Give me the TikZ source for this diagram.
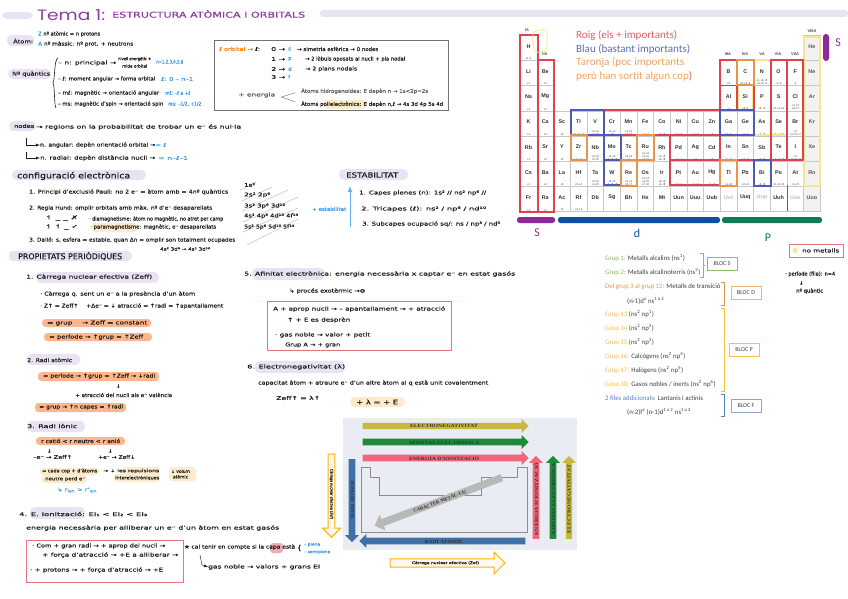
\documentclass[tikz,border=0pt]{standalone}
\usepackage{fontspec}
\usepackage{graphicx}
\usepackage{xcolor}
\usetikzlibrary{shapes.arrows,arrows.meta}
\setmainfont{DejaVu Sans}[FakeBold=0.35]
\newfontfamily\blocfont{Carlito}
\newfontfamily\tablefont{Liberation Sans}
\newfontfamily\trendfont{Liberation Serif}
\newfontfamily\titlefont{Poppins}
\definecolor{ink}{HTML}{1C1C1C}
\definecolor{lav}{HTML}{E9E2F2}
\definecolor{peach}{HTML}{FFB68C}
\definecolor{cream}{HTML}{FDEBCB}
\definecolor{plum}{HTML}{8A3F9E}
\definecolor{skyb}{HTML}{3D9BEA}
\definecolor{boxred}{HTML}{E8737A}
\definecolor{tred}{HTML}{E0404F}
\definecolor{tblue}{HTML}{5058B8}
\definecolor{torange}{HTML}{E8944A}
\definecolor{tyellow}{HTML}{F7E68C}
\definecolor{trendbg}{HTML}{E9EDF3}
\definecolor{trendy}{HTML}{C8B83F}
\definecolor{trendg}{HTML}{1F8A3C}
\definecolor{trendp}{HTML}{F0667A}
\definecolor{trendb}{HTML}{3F71A8}
\definecolor{barp}{HTML}{8E2A9A}
\definecolor{barb}{HTML}{0F4FA0}
\definecolor{barg}{HTML}{117A5A}
\definecolor{lgreen}{HTML}{8DBB6A}
\definecolor{lyellow}{HTML}{F5C242}
\definecolor{lblue}{HTML}{5B7FC9}
\newcommand{\fitw}[2]{\resizebox{#1pt}{\height}{#2}}
\tikzset{
  note/.style={anchor=west,inner sep=0pt,text=ink,font=\fontsize{5.2}{6.2}\selectfont},
  bluenote/.style={note,text=skyb},
  greynote/.style={note,text=ink!70},
  head/.style={note,font=\fontsize{8}{9}\selectfont},
  lavpill/.style={fill=lav,rounded corners=5pt},
  peachbar/.style={fill=peach,rounded corners=3.5pt},
  creampill/.style={fill=cream,rounded corners=3pt},
  redbox/.style={draw=boxred,line width=1pt},
  cell/.style={rectangle,draw=black!22,fill=white,anchor=north west,minimum width=16.67pt,minimum height=25.2pt,inner sep=0pt},
  elemsym/.style={inner sep=0pt,font=\tablefont\bfseries\fontsize{5.4}{6}\selectfont,text=black!80},
  oxstate/.style={inner sep=0.6pt,font=\tablefont\fontsize{2.8}{3}\selectfont,text=black!80,align=center},
  tbox/.style={line width=1.1pt},
  group/.style={inner sep=0pt,font=\tablefont\bfseries\fontsize{4}{5}\selectfont,text=black!70},
  legend/.style={anchor=west,inner sep=0pt,font=\blocfont\fontsize{11}{12}\selectfont},
  blocitem/.style={anchor=west,inner sep=0pt,text=black!75,font=\blocfont\fontsize{6.8}{7}\selectfont},
  blocbox/.style={draw,line width=0.8pt,minimum width=30pt,minimum height=13pt,inner sep=0pt,text=black!75,font=\blocfont\fontsize{6}{7}\selectfont},
  trend/.style={single arrow,single arrow head extend=2.4pt,single arrow head indent=0pt,inner sep=0pt,minimum width=14pt,anchor=center,font=\trendfont\bfseries\fontsize{4.8}{5}\selectfont,text=black!80},
  outarrow/.style={single arrow,single arrow head extend=4pt,single arrow head indent=0pt,draw=orange!60!yellow,fill=orange!6,line width=1pt,inner sep=0pt,font=\fontsize{3.6}{4}\selectfont,text=ink}
}
\begin{document}
\begin{tikzpicture}[x=1pt,y=-1pt]
\useasboundingbox (0,0) rectangle (848,599);
\fill[white] (0,0) rectangle (848,599);

% titol
\fill[lavpill] (2,12) rectangle (33,19);
\fill[fill=lav,rounded corners=3pt] (320,10) rectangle (848,17);
\node[note,text=plum,font=\titlefont\fontsize{15}{16}\selectfont] (titlenum) at (37,15) {\fitw{68}{Tema 1:}};
\node[note,text=plum,font=\fontsize{8}{9}\selectfont] (titletext) at (112,14) {\fitw{193}{ESTRUCTURA ATÒMICA I ORBITALS}};

% atom i nombres quantics
\fill[lavpill] (7,35) rectangle (34,46);
\node[note] (atom) at (13,41) {\fitw{20}{Àtom:}};
\node[note] (atomz) at (38,34) {\fitw{62}{\textcolor{skyb}{Z} nº atòmic = n protons}};
\node[note] (atoma) at (38,44) {\fitw{95}{\textcolor{skyb}{A} nº màssic: nº prot. + neutrons}};
\fill[lavpill] (8,69) rectangle (51,79);
\node[note] (quantics) at (12,74) {\fitw{38}{Nº quàntics}};
\draw[ink,line width=0.6pt] (58,58) .. controls (54,59) and (55,80) .. (53,83) .. controls (55,86) and (54,106) .. (56,108);
\node[note] (qn) at (58,63) {\fitw{58}{– n: principal →}};
\node[note,font=\fontsize{4.2}{5}\selectfont] (qnb) at (118,59) {\fitw{33}{nivell energètic +}};
\node[note,font=\fontsize{4.2}{5}\selectfont] (qnc) at (122,66) {\fitw{25}{mida orbital}};
\node[bluenote] (qnv) at (156,62) {\fitw{27}{n=1,2,3,4,5,6}};
\node[note] (ql) at (58,79) {\fitw{97}{– ℓ: moment angular → forma orbital}};
\node[bluenote] (qlv) at (161,79) {\fitw{32}{ℓ: 0 – n–1}};
\node[note] (qm) at (58,93) {\fitw{101}{– mℓ: magnètic → orientació angular}};
\node[bluenote] (qmv) at (165,93) {\fitw{25}{mℓ: –ℓ a +ℓ}};
\node[note] (qs) at (58,104) {\fitw{105}{– ms: magnètic d'spin → orientació spin}};
\node[bluenote] (qsv) at (168,104) {\fitw{33}{ms: –1/2, +1/2}};

% requadre orbitals
\draw[black!55,line width=1pt,fill=white] (214,41) rectangle (448,111);
\node[note] (orbital) at (219,49) {\fitw{41}{\textcolor{orange}{ℓ orbital →} ℓ:}};
\node[note] (lzero) at (271,49) {\fitw{14}{0 →}};
\node[note,text=skyb] (orbs) at (288,49) {s};
\node[note] (orbsd) at (297,49) {\fitw{81}{→ simetria esfèrica → 0 nodes}};
\node[note] (lone) at (271,59) {\fitw{14}{1 →}};
\node[note,text=skyb] (orbp) at (288,59) {p};
\node[note] (orbpd) at (305,59) {\fitw{100}{→ 2 lòbuls oposats al nucli + pla nodal}};
\node[note] (ltwo) at (271,69) {\fitw{14}{2 →}};
\node[note,text=skyb] (orbd) at (288,69) {d};
\node[note] (orbdd) at (305,69) {\fitw{52}{→ 2 plans nodals}};
\node[note] (lthree) at (271,77) {\fitw{14}{3 →}};
\node[note,text=skyb] (orbf) at (288,77) {f};
\node[greynote] (enrg) at (238,95) {\fitw{37}{+ energia}};
\fill[creampill] (323,100) rectangle (366,109);
\node[greynote] (hidro) at (301,91) {\fitw{127}{Àtoms hidrogenoides: E depèn n → 1s<2p=2s}};
\node[note] (poli) at (301,104) {\fitw{142}{Àtoms polielectrònics: E depèn n,ℓ → 4s 3d 4p 5s 4d}};
\draw[black!50,line width=0.5pt,shorten >=6pt] (enrg.east)+(6,2) -- (hidro.west);
\draw[black!50,line width=0.5pt,shorten >=6pt] (enrg.east)+(6,2) -- (poli.west);

% nodes
\fill[lavpill] (9,121) rectangle (36,131);
\node[note] (nodes) at (14,126) {\fitw{20}{nodes}};
\node[note] (nodesd) at (36,127) {\fitw{205}{→ regions on la probabilitat de trobar un e⁻ és nul·la}};
\coordinate (nforka) at (26,138);
\coordinate (nforkb) at (26,152);
\node[note] (nang) at (40,145) {\fitw{115}{n. angular: depèn orientació orbital →}};
\node[bluenote] (nangv) at (155,145) {\fitw{11}{= ℓ}};
\node[note] (nrad) at (40,158) {\fitw{115}{n. radial: depèn distància nucli →}};
\node[bluenote] (nradv) at (158,158) {\fitw{30}{= n–ℓ–1}};
\draw[-latex,ink,line width=0.4pt] (nforka) |- (nang.west);
\draw[-latex,ink,line width=0.4pt] (nforkb) |- (nrad.west);

% configuracio electronica
\fill[lavpill] (12,170) rectangle (146,180);
\node[head] (config) at (17,176) {\fitw{113}{configuració electrònica}};
\node[note] (pauli) at (29,192) {\fitw{199}{1. Principi d'exclusió Pauli: no 2 e⁻ = àtom amb = 4nº quàntics}};
\node[note] (hund) at (29,208) {\fitw{183}{2. Regla Hund: omplir orbitals amb màx. nº d'e⁻ desaparellats}};
\node[note] (orba) at (45,218) {\fitw{33}{↿ \_ \_ ✗}};
\node[note] (diam) at (89,219) {\fitw{134}{· diamagnetisme: àtom no magnètic, no atret per camp}};
\node[note] (orbb) at (45,227) {\fitw{33}{↿ ↿ \_ ✓}};
\fill[creampill] (92,223) rectangle (137,232);
\node[note] (param) at (90,227) {\fitw{126}{· paramagnetisme: magnètic, e⁻ desaparellats}};
\node[note] (dallo) at (29,240) {\fitw{206}{3. Dalló: s, esfera = estable, quan Δn = omplir son totalment ocupades}};
\node[note,font=\fontsize{4.5}{5}\selectfont] (dallob) at (160,249) {\fitw{50}{4s² 3d⁹ → 4s¹ 3d¹⁰}};

% diagonals
\foreach \xa/\ya/\xb/\yb in {240/190/256/182,242/201/272/187,242/211/288/190,243/222/298/197,243/232/298/208,247/245/298/219}
  \draw[black!22,line width=0.6pt] (\xa,\ya) -- (\xb,\yb);
\node[note] (aufa) at (244,185) {\fitw{11}{1s²}};
\node[note] (aufb) at (244,195) {\fitw{26}{2s² 2p⁶}};
\node[note] (aufc) at (244,206) {\fitw{41}{3s² 3p⁶ 3d¹⁰}};
\node[note] (aufd) at (244,216) {\fitw{54}{4s² 4p⁶ 4d¹⁰ 4f¹⁴}};
\node[note] (aufe) at (244,227) {\fitw{50}{5s² 5p⁶ 5d¹⁰ 5f¹⁴}};

% estabilitat
\fill[lavpill] (339,169) rectangle (408,180);
\node[note,font=\fontsize{7}{8}\selectfont] (estab) at (346,175) {\fitw{52}{ESTABILITAT}};
\node[bluenote] (mesest) at (312,209) {\fitw{34}{+ estabilitat}};
\coordinate (estlow) at (350,227);
\coordinate (esthigh) at (350,186);
\draw[-latex,skyb!80,line width=1pt] (estlow) -- (esthigh);
\node[note] (capes) at (359,193) {\fitw{127}{1. Capes plenes (n): 1s² // ns² np⁶ //}};
\node[note] (tricapes) at (361,209) {\fitw{125}{2. Tricapes (ℓ): ns² / np⁶ / nd¹⁰}};
\node[note] (subcapes) at (362,224) {\fitw{138}{3. Subcapes ocupació sq/: ns / np³ / nd⁵}};

% propietats
\fill[lavpill] (9,251) rectangle (132,261);
\node[head] (prop) at (18,256) {\fitw{104}{PROPIETATS PERIÒDIQUES}};
\fill[lavpill] (36,272) rectangle (159,283);
\node[note] (zef) at (26,277) {\fitw{126}{1. Càrrega nuclear efectiva (Zeff)}};
\node[note] (zefa) at (40,294) {\fitw{155}{· Càrrega q. sent un e⁻ a la presència d'un àtom}};
\node[note] (zefb) at (40,306) {\fitw{183}{· Z↑ = Zeff↑ \quad +Δe⁻ = ↓ atracció = ↑radi = ↑apantallament}};
\fill[peachbar] (42,319) rectangle (151,327);
\node[note] (zefc) at (47,323) {\fitw{100}{= grup \quad → Zeff = constant}};
\fill[peachbar] (44,333) rectangle (152,341);
\node[note] (zefd) at (49,337) {\fitw{94}{= període → ↑grup = ↑Zeff}};

\fill[lavpill] (27,354) rectangle (80,365);
\node[note] (radi) at (27,360) {\fitw{45}{2. Radi atòmic}};
\fill[peachbar] (38,372) rectangle (159,381);
\node[note] (radia) at (43,376) {\fitw{112}{= període → ↑grup = ↑Zeff → ↓radi}};
\node[note] (radifl) at (116,386) {↓};
\node[note] (radib) at (75,395) {\fitw{97}{+ atracció del nucli als e⁻ valència}};
\fill[peachbar] (35,403) rectangle (126,412);
\node[note] (radic) at (39,407) {\fitw{84}{= grup → ↑n capes = ↑radi}};

\fill[lavpill] (27,421) rectangle (85,432);
\node[note] (ionic) at (27,426) {\fitw{50}{3. Radi iònic}};
\fill[peachbar] (36,437) rectangle (125,445);
\node[note] (ionica) at (41,441) {\fitw{79}{r catió < r neutre < r anió}};
\node[note] (ionfla) at (47,451) {↓};
\node[note] (ionflb) at (108,451) {↓};
\node[note] (ionicb) at (33,457) {\fitw{39}{–e⁻ → Zeff↑}};
\node[note] (ionicc) at (98,457) {\fitw{37}{+e⁻ → Zeff↓}};
\fill[creampill] (40,468) rectangle (99,475);
\fill[creampill] (42,475) rectangle (87,483);
\fill[creampill] (123,467) rectangle (160,475);
\fill[creampill] (114,474) rectangle (160,482);
\fill[creampill] (169,467) rectangle (196,481);
\node[note,font=\fontsize{4.6}{5}\selectfont] (cadaa) at (42,471) {\fitw{55}{= cada cop + d'àtoms}};
\node[note,font=\fontsize{4.6}{5}\selectfont] (cadab) at (45,479) {\fitw{40}{neutre perd e⁻}};
\node[note,font=\fontsize{4.4}{5}\selectfont] (repa) at (103,471) {\fitw{56}{→ ↓ les repulsions}};
\node[note,font=\fontsize{4.4}{5}\selectfont] (repb) at (115,478) {\fitw{44}{interelectròniques}};
\node[note,font=\fontsize{4.4}{5.5}\selectfont,align=center] (volum) at (171,474) {↓ volum\\atòmic};
\node[bluenote] (rion) at (57,490) {\fitw{40}{↳ r\textsubscript{ion} > r'\textsubscript{ion}}};

% energia d'ionitzacio
\fill[lavpill] (30,507) rectangle (85,519);
\node[note] (ei) at (19,514) {\fitw{128}{4. E. Ionització: EI₁ < EI₂ < EI₃}};
\node[note] (eia) at (26,528) {\fitw{253}{energia necessària per alliberar un e⁻ d'un àtom en estat gasós}};
\draw[redbox] (26,540) rectangle (183,582);
\node[note] (eib) at (32,546) {\fitw{133}{· Com + gran radi → + aprop del nucli →}};
\node[note] (eic) at (42,555) {\fitw{136}{+ força d'atracció → +E a alliberar →}};
\node[note] (eid) at (30,570) {\fitw{133}{· + protons → + força d'atracció → +E}};
\fill[fill=boxred!60,rounded corners=3pt] (270,543) rectangle (283,553);
\node[note] (capa) at (184,547) {\fitw{111}{★ cal tenir en compte si la capa està}};
\node[note,font=\fontsize{7}{8}\selectfont] (capabr) at (297,548) {\{};
\node[bluenote,font=\fontsize{3.8}{4}\selectfont] (plena) at (304,544.5) {\fitw{16}{– plena}};
\node[bluenote,font=\fontsize{3.8}{4}\selectfont] (semi) at (304,552) {\fitw{26}{– semiplena}};
\coordinate (gasfork) at (200,555);
\node[note] (gas) at (208,567) {\fitw{112}{gas noble → valors + grans EI}};
\draw[-latex,ink,line width=0.4pt] (gasfork) -- (202,565) -- (gas.west);

% afinitat
\fill[lavpill] (252,268) rectangle (325,280);
\node[note] (afin) at (244,274) {\fitw{271}{5. Afinitat electrònica: energia necessària x captar e⁻ en estat gasós}};
\node[note] (exot) at (289,291) {\fitw{76}{↳ procés exotèrmic →⊖}};
\draw[redbox] (267,301) rectangle (451,350);
\node[note] (afa) at (273,309) {\fitw{172}{A + aprop nucli → – apantallament → + atracció}};
\node[note] (afb) at (287,320) {\fitw{63}{↑ + E es desprèn}};
\node[note] (afc) at (275,335) {\fitw{95}{· gas noble → valor + petit}};
\node[note] (afd) at (285,345) {\fitw{55}{Grup A → + gran}};

% electronegativitat
\fill[lavpill] (255,361) rectangle (345,373);
\node[note] (eneg) at (247,367) {\fitw{98}{6. Electronegativitat (λ)}};
\node[note] (enega) at (258,383) {\fitw{230}{capacitat àtom + atraure e⁻ d'un altre àtom al q està unit covalentment}};
\node[note] (enegb) at (276,398) {\fitw{44}{Zeff↑ = λ↑}};
\fill[fill=cream,rounded corners=5pt] (350,397) rectangle (405,407);
\node[note,font=\fontsize{6.5}{8}\selectfont] (enegc) at (356,402) {\fitw{42}{+ λ = + E}};

% esquema de tendencies
\fill[trendbg] (343,418) rectangle (577,550);
\node[trend,fill=trendy,minimum height=166pt] (tenega) at (444,426) {\fitw{68}{ELECTRONEGATIVITAT}};
\node[trend,fill=trendg,minimum height=166pt] (tafina) at (444,442) {\fitw{71}{AFINITAT ELECTRÒNICA}};
\node[trend,fill=trendp,minimum height=166pt] (tioniza) at (444,458) {\fitw{70}{ENERGIA D'IONITZACIÓ}};
\draw[black!45,line width=0.8pt] (361,467) -- (370,467) -- (370,477) -- (379,477) -- (379,495) -- (481,495) -- (481,477) -- (517,477) -- (517,467) -- (527,467) -- (527,532) -- (361,532) -- cycle;
\node[trend,fill=trendb,minimum height=83pt,rotate=-90] (tradiv) at (352,499) {\rotatebox{180}{\fitw{39}{RADI ATÒMIC}}};
\node[trend,fill=trendb,minimum height=166pt,rotate=180] (tradih) at (444,541) {\rotatebox{180}{\fitw{39}{RADI ATÒMIC}}};
\node[trend,fill=trendp,minimum height=83pt,rotate=90] (tionizb) at (536,499) {\fitw{72}{ENERGIA D'IONITZACIÓ}};
\node[trend,fill=trendg,minimum height=83pt,rotate=90] (tafinb) at (553,499) {\fitw{72}{AFINITAT ELECTRÒNICA}};
\node[trend,fill=trendy,minimum height=83pt,rotate=90] (tenegb) at (569,499) {\fitw{68}{ELECTRONEGATIVITAT}};
\node[trend,fill=black!28,minimum height=136pt,minimum width=17pt,single arrow head extend=3pt,rotate=200.7] (tmetal) at (440,501) {\rotatebox{180}{\fitw{57}{CARÀCTER METÀL·LIC}}};
\node[outarrow,minimum height=83pt,minimum width=18pt,rotate=-90] (zefv) at (331.5,494) {\fitw{50}{Càrrega nuclear efectiva (Zef)}};
\node[outarrow,minimum height=115pt,minimum width=22pt] (zefh) at (445.5,563) {\fitw{67}{Càrrega nuclear efectiva (Zef)}};

% taula periodica
\foreach \sym/\cx/\cy/\ox in {H/0/0/{+1,-1},Li/0/1/+1,Be/1/1/+2,B/12/1/+3,C/13/1/{+2,+4,-4},N/14/1/{+1,+2,+3\\+4,+5,-3},O/15/1/{-1,-2},F/16/1/-1,
  Na/0/2/+1,Mg/1/2/+2,Al/12/2/+3,Si/13/2/{+4,-4},P/14/2/{+3,+5},S/15/2/{+2,+4,+6},Cl/16/2/{+1,+3\\+5,+7},
  K/0/3/+1,Ca/1/3/+2,Sc/2/3/+3,Ti/3/3/{+2,+3,+4},V/4/3/{+2,+3\\+4,+5},Cr/5/3/{+2,+3\\+6},Mn/6/3/{+2,+3\\+4,+7},Fe/7/3/{+2,+3},Co/8/3/{+2,+3},Ni/9/3/{+2,+3},Cu/10/3/{+1,+2},Zn/11/3/+2,Ga/12/3/{+1,+3},Ge/13/3/{+2,+4},As/14/3/{+3,+5},Se/15/3/{-2,+4,+6},Br/16/3/{+1\\+3,+5,+7},
  Rb/0/4/+1,Sr/1/4/+2,Y/2/4/+3,Zr/3/4/{+3,+4},Nb/4/4/{+2,+3\\+4,+5},Mo/5/4/{+2,+3\\+4,+5,+6},Tc/6/4/{+4,+6\\+7},Ru/7/4/{+2,+3\\+4,+6\\+7,+8},Rh/8/4/{+2,+3\\+4,+6},Pd/9/4/{+2,+4},Ag/10/4/+1,Cd/11/4/+2,In/12/4/{+1,+3},Sn/13/4/{+2,+4},Sb/14/4/{+3,+5},Te/15/4/{+2,+4,+6},I/16/4/{+1\\+3,+5,+7},
  Cs/0/5/+1,Ba/1/5/+2,La/2/5/+3,Hf/3/5/{+3,+4},Ta/4/5/{+2,+3\\+4,+5},W/5/5/{+2,+3\\+4,+5,+6},Re/6/5/{+2,+4\\+6,+7},Os/7/5/{+2,+3\\+4,+6\\+7,+8},Ir/8/5/{+2,+3\\+4,+6},Pt/9/5/{+2,+4},Au/10/5/{+1,+3},Hg/11/5/{+1,+2},Tl/12/5/{+1,+3},Pb/13/5/{+2,+4},Bi/14/5/{+3,+5},Po/15/5/{+2,+4,+6},At/16/5/{+1,+5},
  Fr/0/6/+1,Ra/1/6/+2,Ac/2/6/+3,Rf/3/6/{+3,+4},Db/4/6/{},Sg/5/6/{},Bh/6/6/{},Hs/7/6/{},Mt/8/6/{},Uun/9/6/{},Uuu/10/6/{},Uub/11/6/{},Uuq/13/6/{},Uuh/15/6/{}}{
  \node[cell] (\sym) at ({520+16.67*\cx},{35+25.2*\cy}) {};
  \node[elemsym] (sym\sym) at ([yshift=1.5pt]\sym.center) {\sym};
  \node[oxstate,anchor=south] (ox\sym) at (\sym.south) {\ox};
}
\foreach \sym/\cx/\cy in {He/17/0,Ne/17/1,Ar/17/2,Kr/17/3,Xe/17/4,Rn/17/5,Uuo/17/6}{
  \node[cell,fill=black!5] (\sym) at ({520+16.67*\cx},{35+25.2*\cy}) {};
  \node[elemsym,text=black!65] (sym\sym) at ([yshift=1.5pt]\sym.center) {\sym};
}
\foreach \sym/\cx in {Uut/12,Uup/14,Uus/16}{
  \node[cell] (\sym) at ({520+16.67*\cx},{35+25.2*6}) {};
  \node[elemsym,text=black!25] (sym\sym) at ([yshift=1.5pt]\sym.center) {\sym};
}
\draw[black!60,line width=0.7pt] (720,85) -- (737,85) (754,135) -- (770,135) (787,185) -- (787,211);
\node[group] (gia) at (527,30) {IA};
\node[group] (giia) at (545,54) {IIA};
\node[group] (giiia) at (728,54) {IIIA};
\node[group] (giva) at (745,54) {IVA};
\node[group] (gva) at (762,54) {VA};
\node[group] (gvia) at (778,54) {VIA};
\node[group] (gviia) at (795,54) {VIIA};
\node[group] (gviiia) at (812,31) {VIIIA};
% marcs de colors
\draw[tbox,tyellow] (804,37) rectangle (820,186);
\draw[tbox,tyellow] (754,60) -- (771,60) -- (771,135) -- (754,135) -- cycle;
\draw[tbox,tyellow] (738,85) rectangle (753,110);
\draw[tbox,tyellow] (771,135) rectangle (787,160);
\draw[tbox,tred] (520,35) rectangle (538,212);
\draw[tbox,tred] (538,60) rectangle (554,212);
\draw[tbox,tred] (604,110) rectangle (720,135);
\draw[tbox,tred] (670,135) rectangle (720,160);
\draw[tbox,tred] (670,160) rectangle (720,185);
\draw[tbox,tred] (720,60) rectangle (737,110);
\draw[tbox,tred] (737,85) rectangle (754,110);
\draw[tbox,tred] (771,60) rectangle (787,160);
\draw[tbox,tred] (787,60) rectangle (803,160);
\draw[tbox,tred] (720,160) -- (787,160);
\draw[tbox,tblue] (571,110) rectangle (604,135);
\draw[tbox,tblue] (604,135) rectangle (621,160);
\draw[tbox,tblue] (604,160) rectangle (621,185);
\draw[tbox,tblue] (720,110) rectangle (754,135);
\draw[tbox,tblue] (754,160) rectangle (771,186);
\draw[tbox,torange] (571,135) rectangle (587,160);
\draw[tbox,torange] (637,135) rectangle (654,160);
\draw[tbox,torange] (621,160) rectangle (637,186);
\draw[tbox,torange] (720,160) rectangle (737,186);
\draw[tbox,torange] (737,60) rectangle (754,85);
\draw[tyellow,line width=0.8pt] plot[smooth cycle] coordinates {(534,32) (546,30) (547,40) (546,50) (536,52) (533,45)};

\node[legend,text=tred!85] (roig) at (576,35) {\fitw{101}{Roig (els + importants)}};
\node[legend,text=tblue!90] (blau) at (576,49) {\fitw{114}{Blau (bastant importants)}};
\node[legend,text=torange!85] (taronja) at (576,62) {\fitw{108}{Taronja (poc importants}};
\node[legend,text=torange!85] (pero) at (576,76) {\fitw{116}{però han sortit algun cop\textcolor{tred!85}{)}}};

\fill[barp,rounded corners=2.5pt] (517,217) rectangle (555,223);
\fill[barb,rounded corners=2.5pt] (558,217) rectangle (720,223);
\fill[barg,rounded corners=2.5pt] (722,217) rectangle (822,223);
\fill[barp,rounded corners=3pt] (823,34) rectangle (829,61);
\node[inner sep=0pt,text=barp,font=\blocfont\fontsize{12}{13}\selectfont] (lets) at (838,43) {S};
\node[inner sep=0pt,text=barp,font=\blocfont\fontsize{12}{13}\selectfont] (letsb) at (537,233) {S};
\node[inner sep=0pt,text=barb,font=\blocfont\fontsize{12}{13}\selectfont] (letd) at (637,233) {d};
\node[inner sep=0pt,text=barg,font=\blocfont\fontsize{12}{13}\selectfont] (letp) at (768,238) {P};

% llista de blocs
\node[blocitem] (gra) at (605,258) {\textcolor{lgreen}{Grup 1:} Metalls alcalins (ns\textsuperscript{1})};
\node[blocitem] (grb) at (605,272) {\textcolor{lgreen}{Grup 2:} Metalls alcalinoterris (ns\textsuperscript{2})};
\node[blocitem] (grc) at (605,287) {\textcolor{torange}{Del grup 3 al grup 12:} Metalls de transició};
\node[blocitem] (grd) at (627,301) {(n-1)d\textsuperscript{x} ns\textsuperscript{1 o 2}};
\node[blocitem] (gre) at (605,314) {\textcolor{lyellow}{Grup 13} (ns\textsuperscript{2} np\textsuperscript{1})};
\node[blocitem] (grf) at (605,328) {\textcolor{lyellow}{Grup 14} (ns\textsuperscript{2} np\textsuperscript{2})};
\node[blocitem] (grg) at (605,342) {\textcolor{lyellow}{Grup 15} (ns\textsuperscript{2} np\textsuperscript{3})};
\node[blocitem] (grh) at (605,356) {\textcolor{lyellow}{Grup 16:} Calcògens (ns\textsuperscript{2} np\textsuperscript{4})};
\node[blocitem] (gri) at (605,370) {\textcolor{lyellow}{Grup 17:} Halògens (ns\textsuperscript{2} np\textsuperscript{5})};
\node[blocitem] (grj) at (605,384) {\textcolor{lyellow}{Grup 18:} Gasos nobles / inerts (ns\textsuperscript{2} np\textsuperscript{6})};
\node[blocitem] (grk) at (605,398) {\textcolor{lblue}{2 files addicionals:} Lantanis i actinis};
\node[blocitem] (grl) at (627,412) {(n-2)f\textsuperscript{x} (n-1)d\textsuperscript{1 o 2} ns\textsuperscript{1 o 2}};
\draw[lgreen,line width=0.9pt] (700,253) -- (703,253) -- (703,277) -- (700,277);
\draw[lgreen,line width=0.9pt] (703,265) -- (705,265);
\draw[torange,line width=0.9pt] (721,282) -- (724,282) -- (724,305) -- (721,305);
\draw[lyellow,line width=0.9pt] (721,308) -- (724,308) -- (724,391) -- (721,391);
\draw[lblue,line width=0.9pt] (721,394) -- (724,394) -- (724,416) -- (721,416);
\node[blocbox,draw=lgreen] (blocs) at (722,264) {BLOC S};
\node[blocbox,draw=torange!70] (blocd) at (746,293) {BLOC D};
\node[blocbox,draw=lyellow] (blocp) at (744,350) {BLOC P};
\node[blocbox,draw=lblue!70] (blocf) at (746,405.5) {BLOC F};

\draw[redbox] (789,244) rectangle (843,257);
\fill[tyellow] (795,250.5) circle (2.5);
\node[note] (nomet) at (802,250.5) {\fitw{37}{no metalls}};
\node[note] (periode) at (785,274) {\fitw{50}{· període (fila): n=4}};
\node[note] (perfl) at (799,283) {↓};
\node[note] (pernq) at (796,291) {\fitw{27}{nº quàntic}};
\end{tikzpicture}
\end{document}
